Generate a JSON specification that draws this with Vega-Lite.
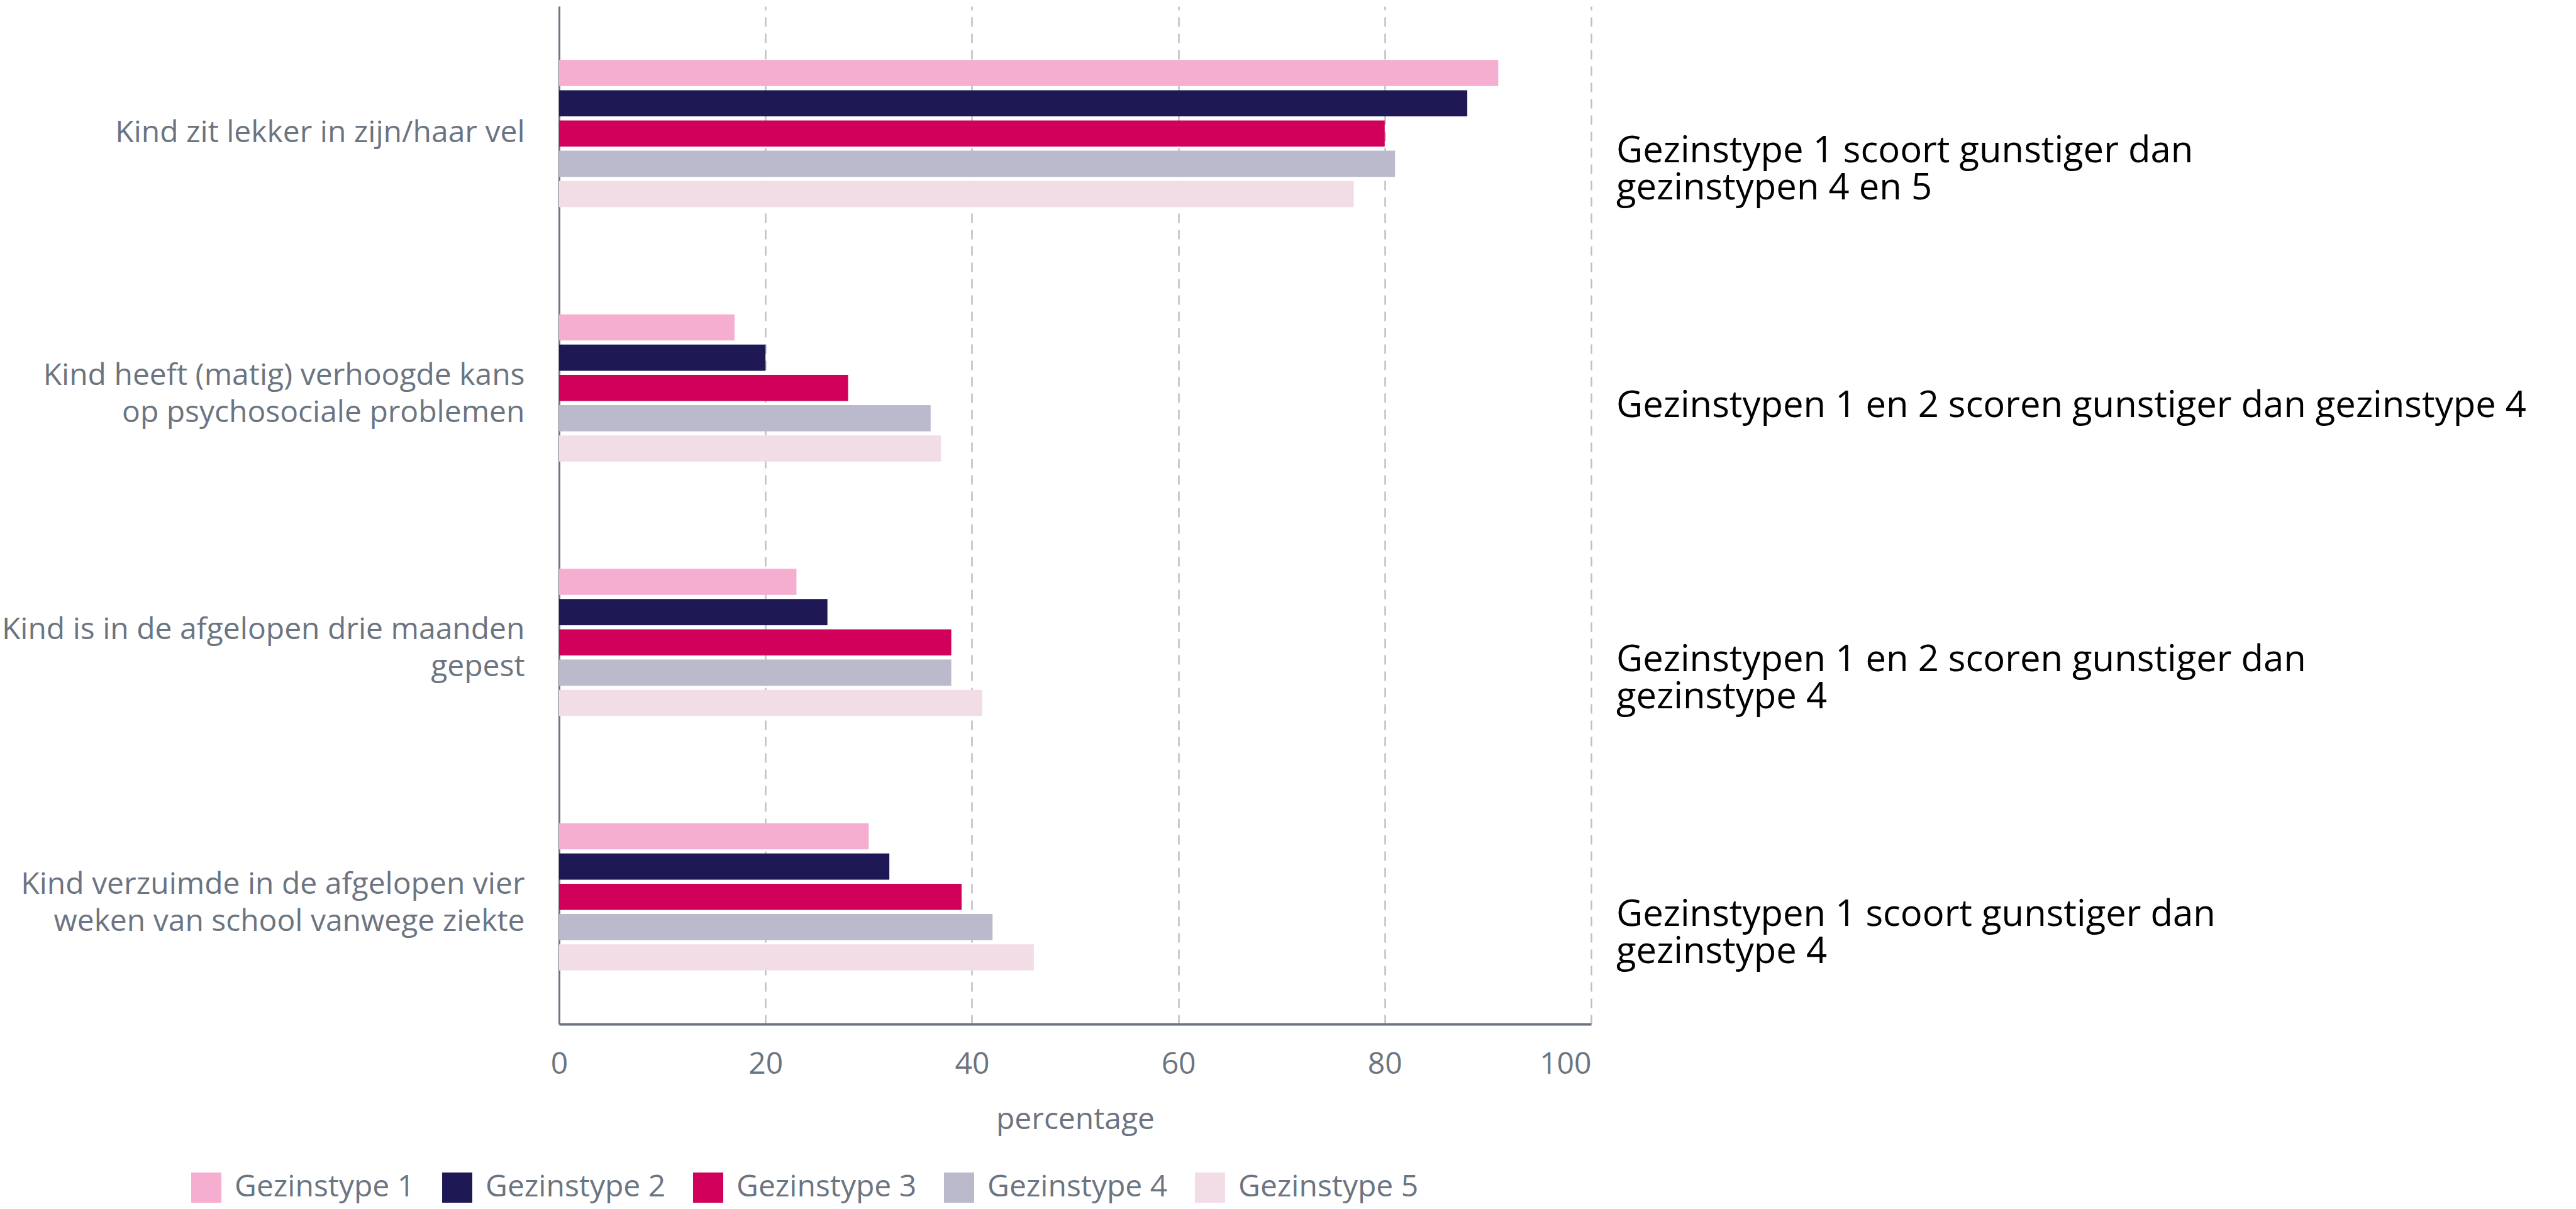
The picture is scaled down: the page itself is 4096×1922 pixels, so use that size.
{
  "$schema": "https://vega.github.io/schema/vega-lite/v6.json",
  "width": 1641,
  "height": 1618,
  "autosize": {"type": "none"},
  "padding": {"left": 889, "top": 10, "right": 1566, "bottom": 294},
  "background": "white",
  "config": {"view": {"stroke": null}, "font": "Open Sans"},
  "datasets": {
    "bars": [
      {"item": "Kind zit lekker in zijn/haar vel", "gezinstype": "Gezinstype 1", "pct": 91},
      {"item": "Kind zit lekker in zijn/haar vel", "gezinstype": "Gezinstype 2", "pct": 88},
      {"item": "Kind zit lekker in zijn/haar vel", "gezinstype": "Gezinstype 3", "pct": 80},
      {"item": "Kind zit lekker in zijn/haar vel", "gezinstype": "Gezinstype 4", "pct": 81},
      {"item": "Kind zit lekker in zijn/haar vel", "gezinstype": "Gezinstype 5", "pct": 77},
      {"item": "Kind heeft (matig) verhoogde kans op psychosociale problemen", "gezinstype": "Gezinstype 1", "pct": 17},
      {"item": "Kind heeft (matig) verhoogde kans op psychosociale problemen", "gezinstype": "Gezinstype 2", "pct": 20},
      {"item": "Kind heeft (matig) verhoogde kans op psychosociale problemen", "gezinstype": "Gezinstype 3", "pct": 28},
      {"item": "Kind heeft (matig) verhoogde kans op psychosociale problemen", "gezinstype": "Gezinstype 4", "pct": 36},
      {"item": "Kind heeft (matig) verhoogde kans op psychosociale problemen", "gezinstype": "Gezinstype 5", "pct": 37},
      {"item": "Kind is in de afgelopen drie maanden gepest", "gezinstype": "Gezinstype 1", "pct": 23},
      {"item": "Kind is in de afgelopen drie maanden gepest", "gezinstype": "Gezinstype 2", "pct": 26},
      {"item": "Kind is in de afgelopen drie maanden gepest", "gezinstype": "Gezinstype 3", "pct": 38},
      {"item": "Kind is in de afgelopen drie maanden gepest", "gezinstype": "Gezinstype 4", "pct": 38},
      {"item": "Kind is in de afgelopen drie maanden gepest", "gezinstype": "Gezinstype 5", "pct": 41},
      {"item": "Kind verzuimde in de afgelopen vier weken van school vanwege ziekte", "gezinstype": "Gezinstype 1", "pct": 30},
      {"item": "Kind verzuimde in de afgelopen vier weken van school vanwege ziekte", "gezinstype": "Gezinstype 2", "pct": 32},
      {"item": "Kind verzuimde in de afgelopen vier weken van school vanwege ziekte", "gezinstype": "Gezinstype 3", "pct": 39},
      {"item": "Kind verzuimde in de afgelopen vier weken van school vanwege ziekte", "gezinstype": "Gezinstype 4", "pct": 42},
      {"item": "Kind verzuimde in de afgelopen vier weken van school vanwege ziekte", "gezinstype": "Gezinstype 5", "pct": 46}
    ],
    "notes": [
      {"item": "Kind zit lekker in zijn/haar vel", "note": ["Gezinstype 1 scoort gunstiger dan", "gezinstypen 4 en 5"]},
      {"item": "Kind heeft (matig) verhoogde kans op psychosociale problemen", "note": "Gezinstypen 1 en 2  scoren gunstiger dan gezinstype 4"},
      {"item": "Kind is in de afgelopen drie maanden gepest", "note": ["Gezinstypen 1 en 2  scoren gunstiger dan", "gezinstype 4"]},
      {"item": "Kind verzuimde in de afgelopen vier weken van school vanwege ziekte", "note": ["Gezinstypen 1  scoort gunstiger dan", "gezinstype 4"]}
    ]
  },
  "layer": [
    {
      "data": {"name": "bars"},
      "mark": {"type": "bar"},
      "encoding": {
        "y": {
          "field": "item",
          "type": "nominal",
          "sort": [
            "Kind zit lekker in zijn/haar vel",
            "Kind heeft (matig) verhoogde kans op psychosociale problemen",
            "Kind is in de afgelopen drie maanden gepest",
            "Kind verzuimde in de afgelopen vier weken van school vanwege ziekte"
          ],
          "scale": {"paddingInner": 0.4215, "paddingOuter": 0.2108},
          "axis": {
            "title": null,
            "ticks": false,
            "grid": false,
            "domain": true,
            "domainColor": "#6B7480",
            "domainWidth": 3,
            "labelFont": "Open Sans",
            "labelFontSize": 48,
            "labelColor": "#6B7480",
            "labelPadding": 55,
            "labelLimit": 0,
            "labelLineHeight": 59,
            "labelOffset": {"condition": {"test": "datum.value != 'Kind zit lekker in zijn/haar vel'", "value": -19}, "value": 0},
            "labelExpr": "datum.value == 'Kind heeft (matig) verhoogde kans op psychosociale problemen' ? ['Kind heeft (matig) verhoogde kans', 'op psychosociale problemen'] : datum.value == 'Kind is in de afgelopen drie maanden gepest' ? ['Kind is in de afgelopen drie maanden', 'gepest'] : datum.value == 'Kind verzuimde in de afgelopen vier weken van school vanwege ziekte' ? ['Kind verzuimde in de afgelopen vier', 'weken van school vanwege ziekte'] : datum.value"
          }
        },
        "yOffset": {
          "field": "gezinstype",
          "type": "nominal",
          "sort": ["Gezinstype 1", "Gezinstype 2", "Gezinstype 3", "Gezinstype 4", "Gezinstype 5"],
          "scale": {"paddingInner": 0.137, "paddingOuter": 0}
        },
        "x": {
          "field": "pct",
          "type": "quantitative",
          "scale": {"domain": [0, 100], "nice": false},
          "axis": {
            "title": "percentage",
            "values": [0, 20, 40, 60, 80, 100],
            "grid": true,
            "gridDash": [15, 11],
            "gridColor": "#BEC0C4",
            "gridWidth": 2.5,
            "ticks": false,
            "domain": true,
            "domainColor": "#6B7480",
            "domainWidth": 4,
            "labelFont": "Open Sans",
            "labelFontSize": 48,
            "labelColor": "#6B7480",
            "labelPadding": 40,
            "labelAlign": {"condition": {"test": "datum.value == 100", "value": "right"}, "value": "center"},
            "titleFont": "Open Sans",
            "titleFontSize": 48,
            "titleFontWeight": "normal",
            "titleColor": "#6B7480",
            "titlePadding": 40
          }
        },
        "color": {
          "field": "gezinstype",
          "type": "nominal",
          "scale": {
            "domain": ["Gezinstype 1", "Gezinstype 2", "Gezinstype 3", "Gezinstype 4", "Gezinstype 5"],
            "range": ["#F5ADD0", "#1E1854", "#D1005A", "#BBBACC", "#F2DCE6"]
          },
          "legend": {
            "orient": "none",
            "legendX": -585,
            "legendY": 1854,
            "direction": "horizontal",
            "title": null,
            "symbolType": "square",
            "symbolSize": 2300,
            "symbolStrokeWidth": 0,
            "symbolOpacity": 1,
            "labelFont": "Open Sans",
            "labelFontSize": 48,
            "labelColor": "#6B7480",
            "labelOffset": 21,
            "columnPadding": 43,
            "labelLimit": 0
          }
        }
      }
    },
    {
      "data": {"name": "notes"},
      "mark": {
        "type": "text",
        "align": "left",
        "baseline": "top",
        "dx": 40,
        "dy": 0,
        "font": "Open Sans",
        "fontSize": 58,
        "lineHeight": 59,
        "color": "#000000"
      },
      "encoding": {
        "y": {
          "field": "item",
          "type": "nominal",
          "sort": [
            "Kind zit lekker in zijn/haar vel",
            "Kind heeft (matig) verhoogde kans op psychosociale problemen",
            "Kind is in de afgelopen drie maanden gepest",
            "Kind verzuimde in de afgelopen vier weken van school vanwege ziekte"
          ]
        },
        "x": {"datum": 100},
        "text": {"field": "note"}
      }
    }
  ]
}
